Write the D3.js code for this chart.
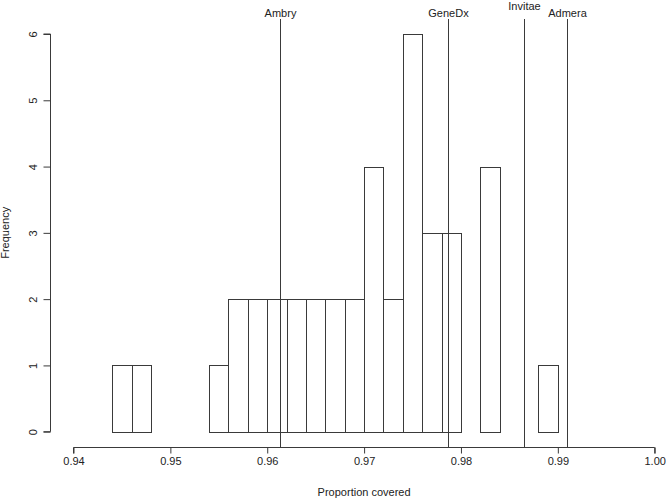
<!DOCTYPE html>
<html>
<head>
<meta charset="utf-8">
<script src="https://cdn.jsdelivr.net/npm/d3@7"></script>
<style>
  body { margin: 0; background: #fff; }
  svg { display: block; }
  text { font-family: "Liberation Sans", Arial, sans-serif; font-size: 11px; fill: #222; }
</style>
</head>
<body>
<svg id="chart" width="666" height="500"></svg>
<script>
// Histogram bins (left edges, width 0.002) and counts
const binStarts = [0.940,0.942,0.944,0.946,0.948,0.950,0.952,0.954,0.956,0.958,
                   0.960,0.962,0.964,0.966,0.968,0.970,0.972,0.974,0.976,0.978,
                   0.980,0.982,0.984,0.986,0.988,0.990,0.992,0.994,0.996,0.998];
const counts    = [0,0,1,1,0,0,0,1,2,2,
                   2,2,2,2,2,4,2,6,3,3,
                   0,4,0,0,1,0,0,0,0,0];
const binWidth = 0.002;

// Reference lines
const labNames  = ["Ambry", "GeneDx", "Invitae", "Admera"];
const labValues = [0.9613, 0.9787, 0.9865, 0.9909];
const labRaised = [false, false, true, false];

// Axis ticks
const xTicks = [0.94, 0.95, 0.96, 0.97, 0.98, 0.99, 1.00];
const yTicks = [0, 1, 2, 3, 4, 5, 6];

const svg = d3.select("#chart");
const stroke = "#3a3a3a";

const x = d3.scaleLinear().domain([0.94, 1.00]).range([73.5, 654.7]);
const y = d3.scaleLinear().domain([0, 6]).range([431.7, 34]);

// Bars
svg.append("g").selectAll("rect")
  .data(binStarts.map((s, i) => ({ s, c: counts[i] })))
  .join("rect")
  .attr("x", d => Math.round(x(d.s)) + 0.5)
  .attr("width", d => Math.round(x(d.s + binWidth)) - Math.round(x(d.s)))
  .attr("y", d => Math.round(y(d.c)) + 0.5)
  .attr("height", d => Math.round(y(0)) - Math.round(y(d.c)))
  .attr("fill", "none")
  .attr("stroke", stroke)
  .attr("stroke-width", 1);

// X axis
const xAxisY = 447;
const xAxis = d3.axisBottom(x).tickValues(xTicks)
  .tickFormat(d3.format(".2f")).tickSize(6).tickPadding(4);
const gx = svg.append("g").attr("transform", `translate(0,${xAxisY + 0.5})`).call(xAxis);
gx.select(".domain").attr("stroke", stroke).attr("d", `M${x(0.94)},6V0H${x(1.00)}V6`);
gx.selectAll(".tick line").attr("stroke", stroke);
gx.selectAll(".tick text").attr("fill", "#222")
  .style("font-family", '"Liberation Sans", Arial, sans-serif').style("font-size", "11px");

// Y axis
const yAxisX = 50;
const yAxis = d3.axisLeft(y).tickValues(yTicks).tickFormat(d3.format("d")).tickSize(7).tickPadding(0);
const gy = svg.append("g").attr("transform", `translate(${yAxisX + 0.5},0)`).call(yAxis);
gy.select(".domain").attr("stroke", stroke).attr("d", `M-7,${y(0)}H0V${y(6)}H-7`);
gy.selectAll(".tick line").attr("stroke", stroke);
gy.selectAll(".tick text")
  .attr("x", null).attr("dy", null)
  .attr("transform", "translate(-14,0) rotate(-90)")
  .attr("text-anchor", "middle")
  .attr("dy", "0")
  .attr("fill", "#222")
  .style("font-family", '"Liberation Sans", Arial, sans-serif').style("font-size", "11px");

// Reference lines
const lg = svg.append("g");
labValues.forEach((v, i) => {
  const px = Math.round(x(v)) + 0.5;
  lg.append("line")
    .attr("x1", px).attr("x2", px)
    .attr("y1", 19).attr("y2", xAxisY)
    .attr("stroke", stroke).attr("stroke-width", 1);
  lg.append("text")
    .attr("x", px).attr("y", labRaised[i] ? 9.5 : 17)
    .attr("text-anchor", "middle")
    .text(labNames[i]);
});

// Axis titles
svg.append("text")
  .attr("x", (x(0.94) + x(1.00)) / 2).attr("y", 496)
  .attr("text-anchor", "middle")
  .text("Proportion covered");
svg.append("text")
  .attr("transform", `translate(9,${(y(0) + y(6)) / 2}) rotate(-90)`)
  .attr("text-anchor", "middle")
  .text("Frequency");
</script>
</body>
</html>
